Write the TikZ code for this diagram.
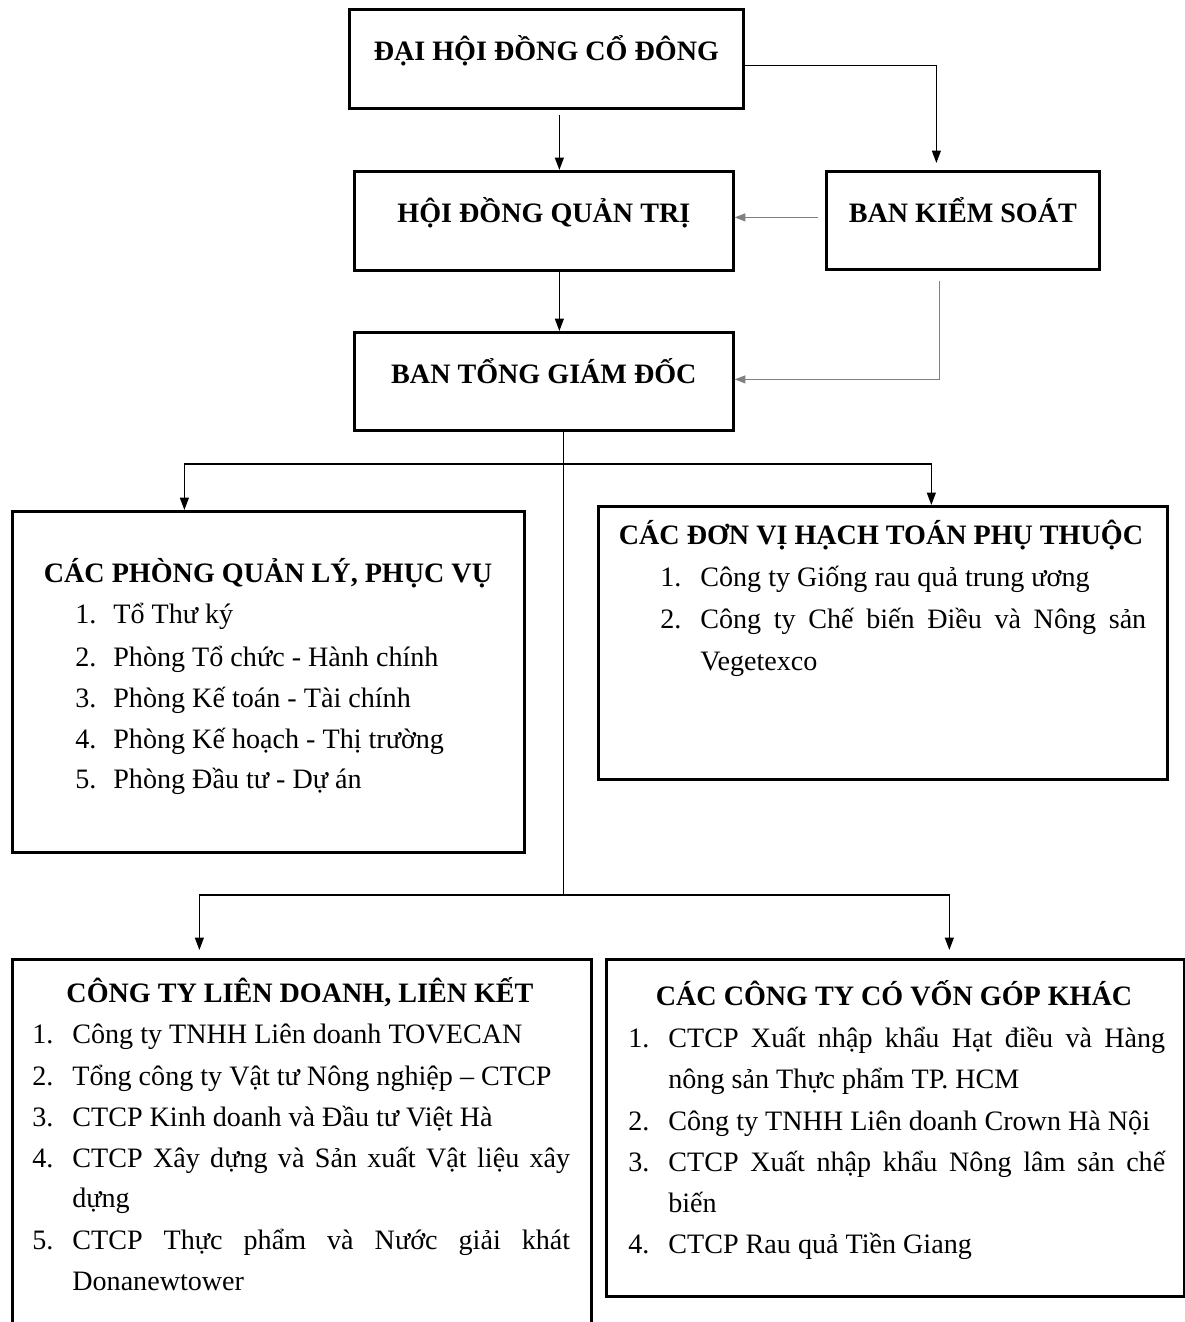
\documentclass[tikz,border=0pt]{standalone}
\usepackage{fontspec}
\setmainfont{Liberation Serif}
\usetikzlibrary{arrows.meta}

\begin{document}
\begin{tikzpicture}[x=0.02cm, y=-0.02cm,
  box/.style={draw, line width=1.6pt, anchor=north west, inner sep=0pt},
  head/.style={box, font=\fontsize{16}{19}\selectfont\bfseries, text height=12pt, text depth=10pt},
  ttl/.style={anchor=base, inner sep=0pt, font=\fontsize{16}{19}\selectfont\bfseries},
  itm/.style={anchor=base west, inner sep=0pt, font=\fontsize{16}{19}\selectfont},
  link/.style={line width=0.9pt},
  conn/.style={link, -{Triangle[length=7pt, width=5pt]}},
  gconn/.style={line width=0.7pt, gray, -{Triangle[length=6pt, width=4.5pt]}}]
  \useasboundingbox (0,0) rectangle (1185,1322);
  \clip (0,0) rectangle (1185,1322);
  % upper boxes
  \node[head, minimum width=7.88cm, minimum height=1.98cm] (dhdcd) at (348,8) {ĐẠI HỘI ĐỒNG CỔ ĐÔNG};
  \node[head, minimum width=7.58cm, minimum height=1.98cm] (hdqt) at (353,170) {HỘI ĐỒNG QUẢN TRỊ};
  \node[head, minimum width=5.46cm, minimum height=1.96cm] (bks) at (825,170) {BAN KIỂM SOÁT};
  \node[head, minimum width=7.58cm, minimum height=1.96cm] (btgd) at (353,331) {BAN TỔNG GIÁM ĐỐC};
  % lower boxes
  \node[box, minimum width=10.24cm, minimum height=6.82cm] (phong) at (11,510) {};
  \node[box, minimum width=11.38cm, minimum height=5.46cm] (donvi) at (597,505) {};
  \node[box, minimum width=11.58cm, minimum height=7.64cm] (lienket) at (11,958) {};
  \node[box, minimum width=11.56cm, minimum height=6.74cm] (vongop) at (605,958) {};
  % cac phong
  \node[ttl] (phong-t) at (268,582) {CÁC PHÒNG QUẢN LÝ, PHỤC VỤ};
  \node[itm] (phong-n1) at (75,623) {1.};
  \node[itm] (phong-1) at (113,623) {Tổ Thư ký};
  \node[itm] (phong-n2) at (75,666) {2.};
  \node[itm] (phong-2) at (113,666) {Phòng Tổ chức - Hành chính};
  \node[itm] (phong-n3) at (75,707) {3.};
  \node[itm] (phong-3) at (113,707) {Phòng Kế toán - Tài chính};
  \node[itm] (phong-n4) at (75,748) {4.};
  \node[itm] (phong-4) at (113,748) {Phòng Kế hoạch - Thị trường};
  \node[itm] (phong-n5) at (75,788) {5.};
  \node[itm] (phong-5) at (113,788) {Phòng Đầu tư - Dự án};
  % don vi hach toan
  \node[ttl] (donvi-t) at (881,544) {CÁC ĐƠN VỊ HẠCH TOÁN PHỤ THUỘC};
  \node[itm] (donvi-n1) at (660,586) {1.};
  \node[itm] (donvi-1) at (700,586) {Công ty Giống rau quả trung ương};
  \node[itm] (donvi-n2) at (660,628) {2.};
  \node[itm] (donvi-2) at (700,628) {\makebox[8.92cm][s]{Công ty Chế biến Điều và Nông sản}};
  \node[itm] (donvi-2b) at (700,670) {Vegetexco};
  % lien doanh, lien ket
  \node[ttl] (lienket-t) at (300,1002) {CÔNG TY LIÊN DOANH, LIÊN KẾT};
  \node[itm] (lienket-n1) at (32,1043) {1.};
  \node[itm] (lienket-1) at (72,1043) {Công ty TNHH Liên doanh TOVECAN};
  \node[itm] (lienket-n2) at (32,1085) {2.};
  \node[itm] (lienket-2) at (72,1085) {Tổng công ty Vật tư Nông nghiệp – CTCP};
  \node[itm] (lienket-n3) at (32,1126) {3.};
  \node[itm] (lienket-3) at (72,1126) {CTCP Kinh doanh và Đầu tư Việt Hà};
  \node[itm] (lienket-n4) at (32,1167) {4.};
  \node[itm] (lienket-4) at (72,1167) {\makebox[9.96cm][s]{CTCP Xây dựng và Sản xuất Vật liệu xây}};
  \node[itm] (lienket-4b) at (72,1207) {dựng};
  \node[itm] (lienket-n5) at (32,1249) {5.};
  \node[itm] (lienket-5) at (72,1249) {\makebox[9.96cm][s]{CTCP Thực phẩm và Nước giải khát}};
  \node[itm] (lienket-5b) at (72,1290) {Donanewtower};
  % von gop khac
  \node[ttl] (vongop-t) at (894,1005) {CÁC CÔNG TY CÓ VỐN GÓP KHÁC};
  \node[itm] (vongop-n1) at (628,1047) {1.};
  \node[itm] (vongop-1) at (668,1047) {\makebox[9.94cm][s]{CTCP Xuất nhập khẩu Hạt điều và Hàng}};
  \node[itm] (vongop-1b) at (668,1088) {nông sản Thực phẩm TP. HCM};
  \node[itm] (vongop-n2) at (628,1130) {2.};
  \node[itm] (vongop-2) at (668,1130) {Công ty TNHH Liên doanh Crown Hà Nội};
  \node[itm] (vongop-n3) at (628,1171) {3.};
  \node[itm] (vongop-3) at (668,1171) {\makebox[9.94cm][s]{CTCP Xuất nhập khẩu Nông lâm sản chế}};
  \node[itm] (vongop-3b) at (668,1212) {biến};
  \node[itm] (vongop-n4) at (628,1253) {4.};
  \node[itm] (vongop-4) at (668,1253) {CTCP Rau quả Tiền Giang};
  % connectors
  \coordinate (a1) at ([xshift=0.31cm]hdqt.north);
  \coordinate (a2) at ([xshift=0.31cm]hdqt.south);
  \coordinate (j0) at ([xshift=0.39cm]btgd.south);
  \coordinate (j1) at (j0 |- 0,464);
  \coordinate (j2) at (j0 |- 0,895);
  \draw[conn] (a1 |- 0,115) -- (a1);
  \draw[conn] ([yshift=-0.13cm]dhdcd.east) -| ([xshift=-0.53cm, yshift=0.14cm]bks.north);
  \draw[gconn] ([xshift=-0.14cm, yshift=0.06cm]bks.west) -- ([yshift=0.06cm]bks.west -| hdqt.east);
  \draw[gconn] ([xshift=-0.47cm, yshift=-0.2cm]bks.south) |- ([yshift=0.04cm]btgd.east);
  \draw[conn] (a2) -- (a2 |- btgd.north);
  \draw[link] (j0) -- (j2);
  \draw[conn] (j1) -| ([xshift=-1.68cm]phong.north);
  \draw[conn] (j1) -| ([xshift=0.97cm]donvi.north);
  \draw[conn] (j2) -| ([xshift=-2.05cm, yshift=0.16cm]lienket.north);
  \draw[conn] (j2) -| ([xshift=1.08cm, yshift=0.16cm]vongop.north);
\end{tikzpicture}
\end{document}
